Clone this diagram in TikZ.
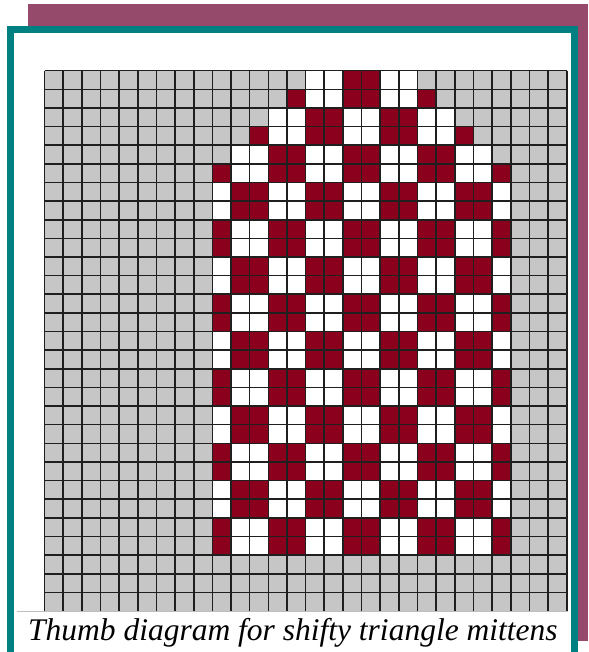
\documentclass[tikz,border=0pt]{standalone}
\usepackage{xcolor}
\usepackage{tikz}
\usepackage{fontspec}
\setmainfont{Liberation Serif}
\definecolor{FrameBerry}{RGB}{150,74,107}
\definecolor{FrameTeal}{RGB}{0,128,128}
\definecolor{KnitRed}{RGB}{139,0,28}
\definecolor{EmptyGray}{RGB}{198,198,198}
\definecolor{RuleGray}{RGB}{190,190,190}

\begin{document}
\begin{tikzpicture}[x=1pt,y=-1pt,
    gridline/.style={draw=black!88,line width=1.6pt},
    cellred/.style={fill=KnitRed},
    cellwhite/.style={fill=white}]
  \def\gx{44.5}\def\gy{70.7}\def\cw{18.65}\def\ch{18.63}
  \useasboundingbox (0,0) rectangle (588,652);
  \fill[white] (0,0) rectangle (588,652);
  % frames
  \fill[FrameBerry] (28.3,4.5) rectangle (588,641);
  \fill[FrameTeal] (7.3,26) rectangle (577.7,652);
  \fill[white] (14,32.7) rectangle (570.7,652);
  % chart
  \coordinate (chartNW) at (\gx,\gy);
  \fill[EmptyGray] (chartNW) rectangle ++({28*\cw},{29*\ch});
  \foreach \r in {0,...,25}{
    \pgfmathtruncatemacro\lo{max(9,14-\r)}
    \pgfmathtruncatemacro\hi{min(24,19+\r)}
    \foreach \c in {\lo,...,\hi}{
      \pgfmathtruncatemacro\k{mod(floor((\c-8)/2)+floor(\r/2),2)}
      \ifnum\k=0
        \fill[cellred] ({\gx+\c*\cw},{\gy+\r*\ch}) rectangle ++(\cw,\ch);
      \else
        \fill[cellwhite] ({\gx+\c*\cw},{\gy+\r*\ch}) rectangle ++(\cw,\ch);
      \fi
    }
  }
  \foreach \c in {0,...,28}
    \draw[gridline] ({\gx+\c*\cw},\gy) -- ++(0,{29*\ch});
  \foreach \r in {0,...,28}
    \draw[gridline] (\gx,{\gy+\r*\ch}) -- ++({28*\cw},0);
  % caption
  \fill[white] (16.7,611) rectangle (567.5,652);
  \draw[RuleGray,line width=0.8pt] (16.7,611) -- (567.5,611);
  \node[anchor=base west,inner sep=0pt] (caption) at (28,640)
    {\fontsize{31.5}{34}\selectfont\itshape Thumb diagram for shifty triangle mittens};
\end{tikzpicture}
\end{document}
